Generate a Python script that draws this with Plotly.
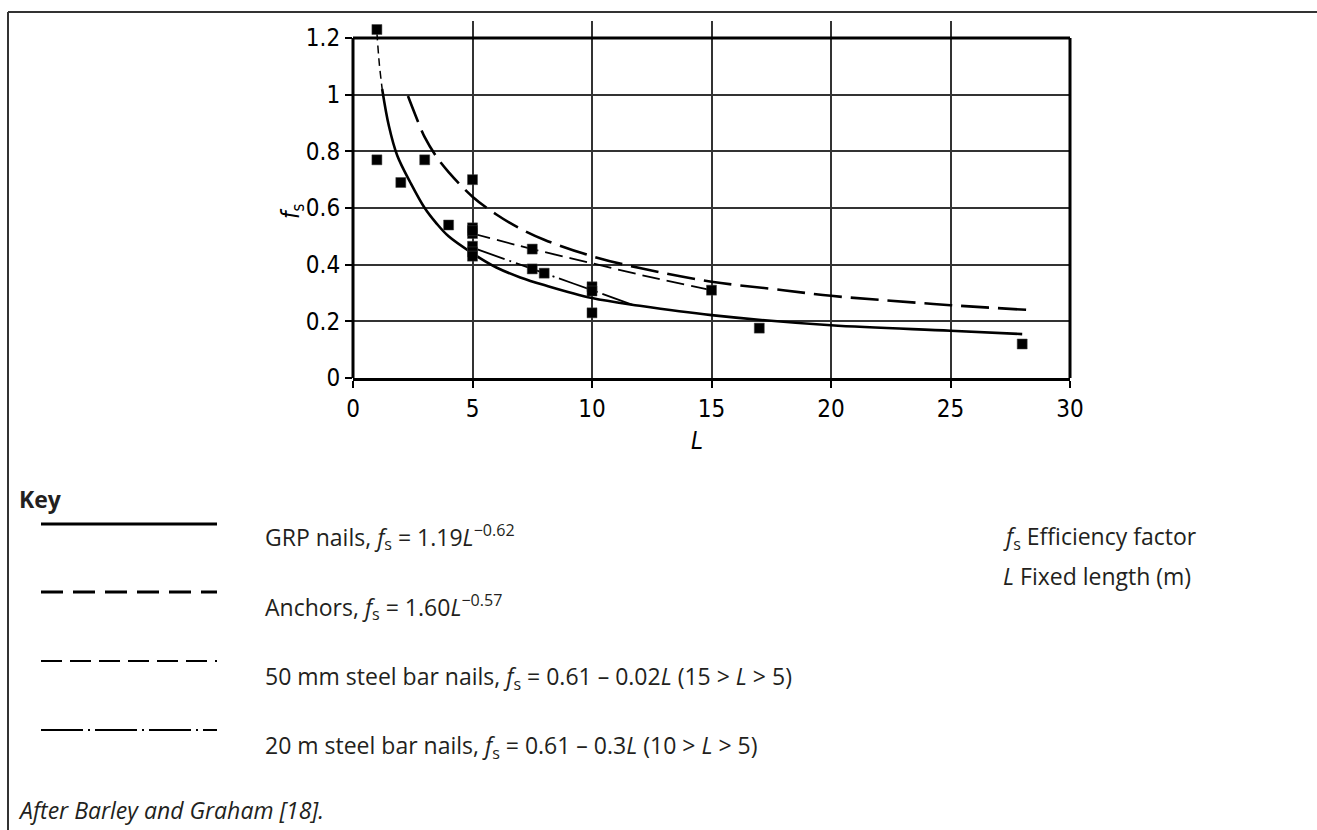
import plotly.graph_objects as go

# ---------------- data ----------------
pts_L = [1, 1, 2, 3, 4, 5, 5, 5, 5, 5, 5, 5, 7.5, 7.5, 8, 10, 10, 10, 15, 17, 28]
pts_fs = [1.23, 0.77, 0.69, 0.77, 0.54, 0.70, 0.53, 0.51, 0.465, 0.445, 0.43,
          0.52, 0.455, 0.385, 0.37, 0.322, 0.307, 0.23, 0.31, 0.176, 0.12]

grp_ext_L = [1.0, 1.1, 1.22]
grp_ext_fs = [1.22, 1.11, 1.02]

grp_L = [1.22, 1.5, 1.85, 2.4, 3, 3.5, 4, 5, 6, 7, 8, 10, 12, 15, 20, 25, 28]
grp_fs = [1.02, 0.89, 0.785, 0.69, 0.60, 0.545, 0.50, 0.44, 0.39, 0.355, 0.328,
          0.282, 0.255, 0.222, 0.186, 0.167, 0.155]

anc_L = [2.3, 2.6, 3, 3.5, 4, 5, 6, 7, 8, 10, 12, 15, 18, 20, 22, 25, 28.3]
anc_fs = [0.995, 0.93, 0.85, 0.78, 0.727, 0.64, 0.577, 0.527, 0.488, 0.43, 0.388,
          0.34, 0.31, 0.29, 0.276, 0.257, 0.24]

s50_L = [5, 7.5, 10, 12.5, 15]
s50_fs = [0.51, 0.455, 0.405, 0.355, 0.31]

s20_L = [5, 7.5, 8, 10, 11.7]
s20_fs = [0.46, 0.385, 0.37, 0.31, 0.258]

x_ticks = [0, 5, 10, 15, 20, 25, 30]
x_ticktext = ["0", "5", "10", "15", "20", "25", "30"]
y_ticks = [0, 0.2, 0.4, 0.6, 0.8, 1.0, 1.2]
y_ticktext = ["0", "0.2", "0.4", "0.6", "0.8", "1", "1.2"]
X_MAX, Y_MAX = 30, 1.2

key_texts = [
    "GRP nails, <i>f</i><sub>s</sub> = 1.19<i>L</i><sup>\u22120.62</sup>",
    "Anchors, <i>f</i><sub>s</sub> = 1.60<i>L</i><sup>\u22120.57</sup>",
    "50 mm steel bar nails, <i>f</i><sub>s</sub> = 0.61 \u2013 0.02<i>L</i> (15 &gt; <i>L</i> &gt; 5)",
    "20 m steel bar nails, <i>f</i><sub>s</sub> = 0.61 \u2013 0.3<i>L</i> (10 &gt; <i>L</i> &gt; 5)",
]
sym_texts = ["<i>f</i><sub>s</sub> Efficiency factor", "<i>L</i> Fixed length (m)"]

# ---------------- layout helpers ----------------
W, H = 1317, 830
PL, PR, PT, PB = 353, 1070, 38, 378
Y_TOP = 1.26                       # axis range top (frame drawn at 1.2)
PT_AX = PB - (PB - PT) * Y_TOP / Y_MAX
Y_FRAME = Y_MAX / Y_TOP            # paper y of the top frame line

def px(x):
    return (x - PL) / (PR - PL)
def py(y):
    return (PB - y) / (PB - PT_AX)

TICKFONT = "DejaVu Sans Condensed, Liberation Sans Narrow, Roboto, sans-serif"
TEXTFONT = "Open Sans, Noto Sans, sans-serif"
TXT = "#231f20"
FS = 23
TFS = 24

fig = go.Figure()

style_solid = dict(color="black", width=2.6)
style_anc = dict(color="black", width=2.6, dash="28px,9px")
style_50 = dict(color="black", width=1.8, dash="18px,7px")
style_20 = dict(color="black", width=1.8, dash="34px,5px,2px,5px")

fig.add_trace(go.Scatter(x=grp_ext_L, y=grp_ext_fs, mode="lines", line_shape="spline",
                         line=dict(color="black", width=1.5, dash="8px,5px"), hoverinfo="skip"))
fig.add_trace(go.Scatter(x=grp_L, y=grp_fs, mode="lines", line_shape="spline", line=style_solid))
fig.add_trace(go.Scatter(x=anc_L, y=anc_fs, mode="lines", line_shape="spline", line=style_anc))
fig.add_trace(go.Scatter(x=s50_L, y=s50_fs, mode="lines", line_shape="spline", line=style_50))
fig.add_trace(go.Scatter(x=s20_L, y=s20_fs, mode="lines", line_shape="spline", line=style_20))
fig.add_trace(go.Scatter(x=pts_L, y=pts_fs, mode="markers", cliponaxis=False,
                         marker=dict(symbol="square", size=10, color="black",
                                     line=dict(color="#444", width=0.5))))

axis_common = dict(showgrid=True, gridcolor="#333", gridwidth=1.6, zeroline=False,
                   ticks="outside", ticklen=7, tickwidth=1.5, tickcolor="black",
                   tickfont=dict(family=TICKFONT, size=TFS, color="black"))

fig.update_xaxes(range=[0, X_MAX], tickvals=x_ticks, ticktext=x_ticktext,
                 showline=True, linewidth=3, linecolor="black", mirror=False, **axis_common)
fig.update_yaxes(range=[0, Y_TOP], tickvals=y_ticks, ticktext=y_ticktext,
                 showline=False, **axis_common)

shapes = []
# plot frame (left, right, top) in paper coordinates so it is not clipped
frame = dict(color="black", width=3)
shapes.append(dict(type="line", xref="paper", yref="paper", x0=0, x1=0, y0=0, y1=Y_FRAME, line=frame))
shapes.append(dict(type="line", xref="paper", yref="paper", x0=1, x1=1, y0=0, y1=Y_FRAME, line=frame))
shapes.append(dict(type="line", xref="paper", yref="paper", x0=0, x1=1, y0=Y_FRAME, y1=Y_FRAME, line=frame))
# frame lines of the figure
shapes.append(dict(type="line", xref="paper", yref="paper", x0=px(8), x1=px(1317),
                   y0=py(12), y1=py(12), line=dict(color="#333", width=2)))
shapes.append(dict(type="line", xref="paper", yref="paper", x0=px(8), x1=px(8),
                   y0=py(12), y1=py(830), line=dict(color="#333", width=2)))
# key line samples
key_line_y = [524, 592, 661, 730]
key_styles = [dict(color="black", width=3),
              dict(color="black", width=3, dash="22px,10px"),
              dict(color="black", width=2, dash="21px,8px"),
              dict(color="black", width=2, dash="42px,5px,2px,5px")]
for yy, st in zip(key_line_y, key_styles):
    shapes.append(dict(type="line", xref="paper", yref="paper", x0=px(41), x1=px(217),
                       y0=py(yy), y1=py(yy), line=st))

annotations = []
annotations.append(dict(text="<i>L</i>", x=px(697), y=py(441), xref="paper", yref="paper",
                        showarrow=False, xanchor="center", yanchor="middle",
                        font=dict(family=TICKFONT, size=TFS, color="black")))
annotations.append(dict(text="<i>f</i><sub>s</sub>", x=px(292), y=py(211), xref="paper", yref="paper",
                        showarrow=False, xanchor="center", yanchor="middle", textangle=-90,
                        font=dict(family=TICKFONT, size=TFS, color="black")))
annotations.append(dict(text="<b>Key</b>", x=px(17), y=py(499), xref="paper", yref="paper",
                        showarrow=False, xanchor="left", yanchor="middle",
                        font=dict(family=TEXTFONT, size=FS, color=TXT)))
key_text_y = [537, 607, 677, 746]
for t, yy in zip(key_texts, key_text_y):
    annotations.append(dict(text=t, x=px(263), y=py(yy), xref="paper", yref="paper",
                            showarrow=False, xanchor="left", yanchor="middle",
                            font=dict(family=TEXTFONT, size=FS, color=TXT)))
for t, yy in zip(sym_texts, [537, 576]):
    annotations.append(dict(text=t, x=px(1001), y=py(yy), xref="paper", yref="paper",
                            showarrow=False, xanchor="left", yanchor="middle",
                            font=dict(family=TEXTFONT, size=FS, color=TXT)))
annotations.append(dict(text="<i>After Barley and Graham [18].</i>", x=px(16), y=py(810),
                        xref="paper", yref="paper", showarrow=False, xanchor="left",
                        yanchor="middle", font=dict(family=TEXTFONT, size=FS, color=TXT)))

fig.update_layout(width=W, height=H, showlegend=False,
                  margin=dict(l=PL, r=W - PR, t=PT_AX, b=H - PB, pad=0),
                  paper_bgcolor="white", plot_bgcolor="white",
                  shapes=shapes, annotations=annotations)

fig.write_html("out.html")
